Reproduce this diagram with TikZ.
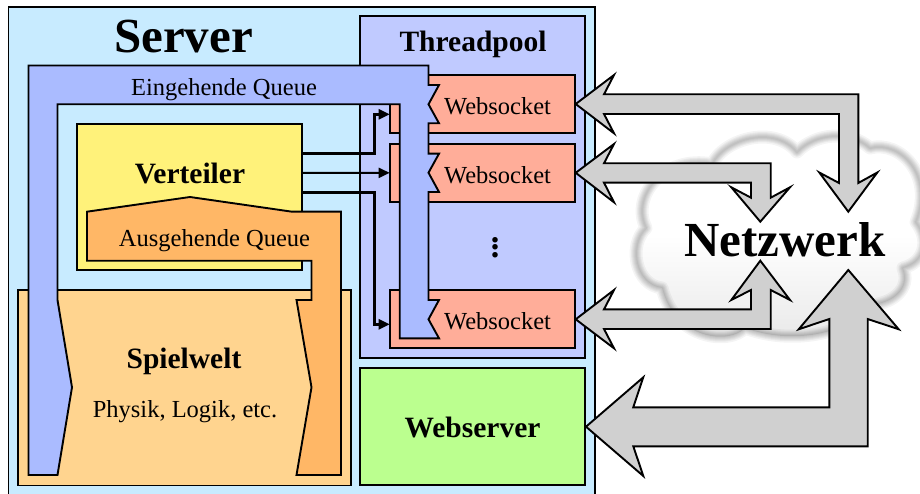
\documentclass[tikz,border=0pt]{standalone}
\usepackage{fontspec}
\setmainfont{Liberation Serif}
\usetikzlibrary{arrows.meta}
\definecolor{serverblue}{HTML}{C8EBFF}
\definecolor{poolblue}{HTML}{C0CAFF}
\definecolor{queueblue}{HTML}{AABBFF}
\definecolor{socketred}{HTML}{FFAD99}
\definecolor{queueorange}{HTML}{FFB766}
\definecolor{weltorange}{HTML}{FFD48F}
\definecolor{verteilergelb}{HTML}{FFF27A}
\definecolor{webgreen}{HTML}{BBFF8F}
\definecolor{pfeilgray}{HTML}{D0D0D0}
\tikzset{
    box/.style={rectangle, draw=black, inner sep=0pt, outer sep=0pt},
    form/.style={draw=black, line join=miter, miter limit=8},
    text24/.style={anchor=base, inner sep=0pt, font=\fontsize{24.5}{24.5}\selectfont},
    bold29/.style={anchor=base, inner sep=0pt, font=\fontsize{29.5}{29.5}\selectfont\bfseries},
    bold48/.style={anchor=base, inner sep=0pt, font=\fontsize{49}{49}\selectfont\bfseries},
    leitung/.style={line width=2.6pt, -{Triangle[length=11pt,width=10pt]}}
}
\newcommand{\wolke}{(646,228) .. controls (630,195) and (665,155) .. (712,164)
    .. controls (725,138) and (775,125) .. (797,152)
    .. controls (815,133) and (850,130) .. (870,148)
    .. controls (900,140) and (935,175) .. (916,222)
    .. controls (930,240) and (925,262) .. (903,268)
    .. controls (912,290) and (890,305) .. (868,305)
    .. controls (850,335) and (790,345) .. (745,328)
    .. controls (730,345) and (675,340) .. (662,288)
    .. controls (635,285) and (628,245) .. (646,228) -- cycle}
\begin{document}
\begin{tikzpicture}[x=1pt, y=-1pt, line width=1.9pt]
    \useasboundingbox (0,0) rectangle (920,494);
    \clip (0,0) rectangle (920,494);

    \node[box, fill=serverblue, minimum width=586.5pt, minimum height=513pt, name=server] at (301.75,263.5) {};
    \node[box, fill=poolblue, minimum width=225pt, minimum height=342pt, name=pool] at (472.5,187) {};
    \node[box, fill=socketred, minimum width=185.3pt, minimum height=58pt, name=ws1] at (482.35,104.3) {};
    \node[box, fill=socketred, minimum width=185.3pt, minimum height=58.3pt, name=ws2] at (482.35,172.85) {};
    \node[box, fill=socketred, minimum width=185.3pt, minimum height=58.3pt, name=ws3] at (482.35,319.15) {};
    \node[box, fill=verteilergelb, minimum width=224.7pt, minimum height=146.3pt, name=verteiler] at (189.35,197.2) {};
    \node[box, fill=weltorange, minimum width=332.4pt, minimum height=195.5pt, name=welt] at (184.5,387.75) {};
    \node[box, fill=webgreen, minimum width=225pt, minimum height=117pt, name=webserver] at (472.5,426.5) {};

    \draw[leitung] ([yshift=43.5pt]verteiler.east) -- ++(73,0) |- ([yshift=-10pt]ws1.west);
    \draw[leitung, line width=2pt] ([yshift=24.2pt]verteiler.east) -- ([yshift=0pt]ws2.west);
    \draw[leitung] ([yshift=4.5pt]verteiler.east) -- ++(73,0) |- ([yshift=-5.2pt]ws3.west);

    % Eingehende Queue
    \draw[form, fill=queueblue] (28.5,65.5) -- (428.5,65.5) -- (428.5,85) -- (439,85) -- (428.5,104.3)
        -- (439,123.3) -- (428.5,123.3) -- (428.5,153.7) -- (439,153.7) -- (428.5,172.7)
        -- (439,192) -- (428.5,192) -- (428.5,300) -- (439,300) -- (428.5,319.3)
        -- (439,338.3) -- (399.7,338.3) -- (399.7,104.3) -- (57.5,104.3) -- (57.5,300)
        -- (72,387.3) -- (57.5,475) -- (28.5,475) -- cycle;
    % Ausgehende Queue
    \draw[form, fill=queueorange] (87,211.7) -- (190,197) -- (292,211.7) -- (341,211.7) -- (341,475)
        -- (296.5,475) -- (311.5,387.3) -- (296.5,300) -- (311.5,300) -- (311.5,260.7)
        -- (87,260.7) -- cycle;

    \node[bold48, name=servertext] at (183.5,52.3) {Server};
    \node[bold29, name=pooltext] at (473,52) {Threadpool};
    \node[text24, name=eintext] at (224,95.7) {Eingehende Queue};
    \node[bold29, name=verteilertext, xshift=0.6pt, yshift=13.5pt] at (verteiler.center) {Verteiler};
    \node[text24, name=austext] at (214.5,247) {Ausgehende Queue};
    \node[text24, name=ws1text, xshift=15.2pt, yshift=-10.5pt] at (ws1.center) {Websocket};
    \node[text24, name=ws2text, xshift=15.2pt, yshift=-10.4pt] at (ws2.center) {Websocket};
    \node[text24, name=ws3text, xshift=15.2pt, yshift=-10.7pt] at (ws3.center) {Websocket};
    \node[inner sep=0pt, name=punkte, align=center, font=\fontsize{34}{7.3}\selectfont\bfseries] at (495,247.5) {.\\.\\.};
    \node[bold29, name=welttext] at (184,368.7) {Spielwelt};
    \node[text24, name=physik] at (185,417.7) {Physik, Logik, etc.};
    \node[bold29, name=webtext, yshift=-11.2pt] at (webserver.center) {Webserver};

    % Wolke
    \shade[top color=white, bottom color=black!9, middle color=white] \wolke;
    \foreach \breite in {13,10,8,6,4,2} {
        \draw[black, opacity=0.045, line width=\breite pt, line join=round] \wolke;
    }

    \draw[form, fill=pfeilgray] (575.7,104) -- (614,75) -- (604,94.3) -- (858.3,94.3) -- (858.3,183)
        -- (877.3,172.5) -- (848.3,211.7) -- (819.3,172.5) -- (839,183) -- (839,114) -- (604,114)
        -- (614,133.3) -- cycle;
    \draw[form, fill=pfeilgray] (575.7,172.8) -- (614,144) -- (604,163.3) -- (770.7,163.3) -- (770.7,197.7)
        -- (790,187.3) -- (760.3,221.7) -- (731.3,187.3) -- (751,197.7) -- (751,182.7) -- (604,182.7)
        -- (614,202.3) -- cycle;
    \draw[form, fill=pfeilgray] (575.7,319.3) -- (614,290) -- (604,309.3) -- (751,309.3) -- (751,290)
        -- (731.3,300) -- (760.3,260.7) -- (790,300) -- (770.7,290) -- (770.7,329) -- (604,329)
        -- (614,348.3) -- cycle;
    \draw[form, fill=pfeilgray] (586,426.7) -- (643.3,377.3) -- (633.3,407.3) -- (829.3,407.3) -- (829.3,319)
        -- (798.7,329.3) -- (848.3,270) -- (898.7,329.3) -- (867.7,319) -- (867.7,446.3) -- (633.3,446.3)
        -- (643.3,476) -- cycle;

    \node[bold48, name=netz] at (785,256) {Netzwerk};
\end{tikzpicture}
\end{document}
